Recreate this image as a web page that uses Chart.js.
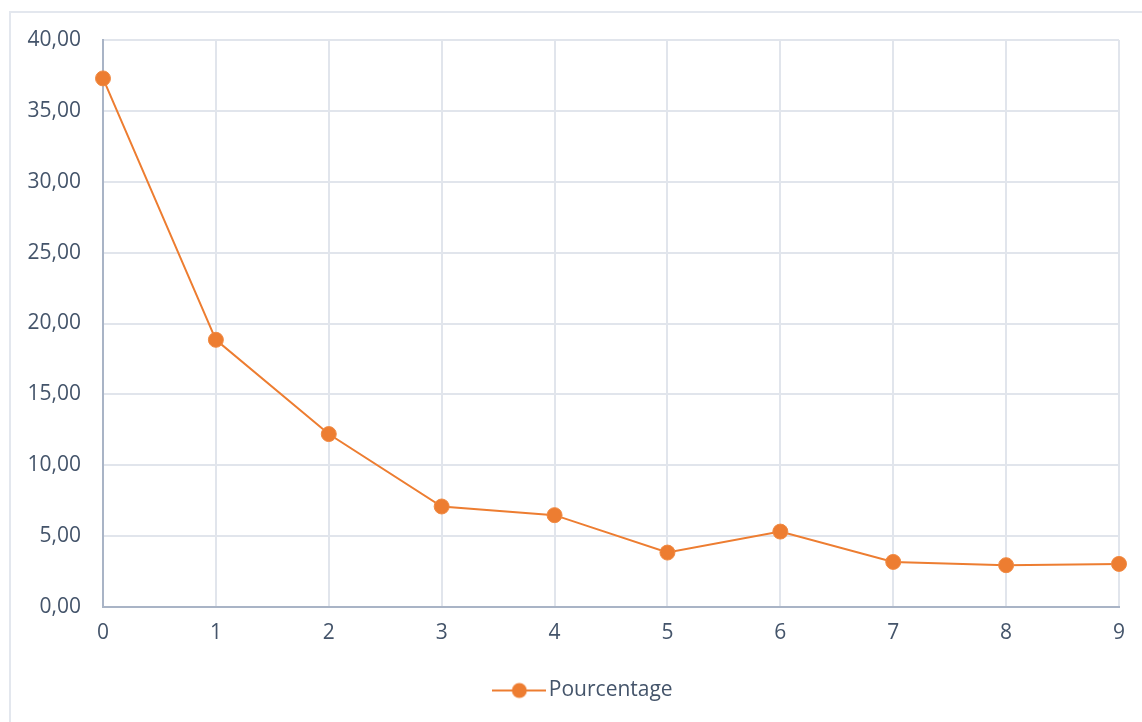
<!DOCTYPE html>
<html>
<head>
<meta charset="utf-8">
<script src="https://cdn.jsdelivr.net/npm/chart.js@4"></script>
<style>
  html, body { margin: 0; padding: 0; background: #ffffff; }
  #frame { position: absolute; left: 9px; top: 11px; width: 1150px; height: 730px; border: 2px solid #e3e7ee; box-sizing: border-box; }
  #wrap { position: absolute; left: 0; top: 0; width: 1142px; height: 722px; }
</style>
</head>
<body>
<div id="frame"></div>
<div id="wrap"><canvas id="c" width="1142" height="722"></canvas></div>
<script>
const categories = ['0', '1', '2', '3', '4', '5', '6', '7', '8', '9'];
const seriesName = 'Pourcentage';
const values = [37.29, 18.85, 12.20, 7.09, 6.48, 3.84, 5.32, 3.18, 2.95, 3.04];
const yTicks = [0, 5, 10, 15, 20, 25, 30, 35, 40];

const ORANGE = '#ED7D31';
const TEXT = '#44546A';
const FONT = { family: 'Open Sans', size: 21 };

function legendIcon() {
  const c = document.createElement('canvas');
  c.width = 54; c.height = 18;
  const g = c.getContext('2d');
  g.strokeStyle = ORANGE; g.lineWidth = 2;
  g.beginPath(); g.moveTo(0, 9); g.lineTo(54, 9); g.stroke();
  g.fillStyle = ORANGE;
  g.beginPath(); g.arc(27, 9, 7.5, 0, Math.PI * 2); g.fill();
  return c;
}
const icon = legendIcon();

const legendShift = {
  id: 'legendShift',
  afterLayout(chart) {
    const lg = chart.legend;
    if (lg) { lg.left += 27; lg.right += 27; }
  }
};

new Chart(document.getElementById('c'), {
  type: 'line',
  data: {
    labels: categories,
    datasets: [{
      label: seriesName,
      data: values,
      borderColor: ORANGE,
      backgroundColor: ORANGE,
      borderWidth: 2,
      pointRadius: 7.5,
      pointBorderWidth: 1,
      pointBorderColor: '#F08A43',
      pointBackgroundColor: ORANGE,
      pointStyle: 'circle',
      tension: 0
    }]
  },
  plugins: [legendShift],
  options: {
    responsive: false,
    animation: false,
    devicePixelRatio: 1,
    layout: { padding: { left: 0, top: 40, right: 23, bottom: 11 } },
    plugins: {
      tooltip: { enabled: false },
      legend: {
        position: 'bottom',
        labels: {
          usePointStyle: true,
          pointStyleWidth: 38,
          color: TEXT,
          font: FONT,
          padding: 10,
          generateLabels: (chart) => [{
            text: seriesName,
            fillStyle: ORANGE,
            strokeStyle: ORANGE,
            pointStyle: icon,
            lineWidth: 0,
            datasetIndex: 0,
            fontColor: TEXT
          }]
        }
      }
    },
    scales: {
      x: {
        offset: false,
        grid: { color: '#e1e5ec', lineWidth: 2, drawTicks: false },
        border: { color: '#a9b4c6', width: 2 },
        ticks: { color: TEXT, font: FONT, padding: 13, maxRotation: 0 },
        afterFit: (s) => { s.height = 63; }
      },
      y: {
        min: 0, max: 40,
        afterBuildTicks: (s) => { s.ticks = yTicks.map(v => ({ value: v })); },
        grid: { color: '#e1e5ec', lineWidth: 2, drawTicks: false },
        border: { color: '#a9b4c6', width: 2 },
        ticks: {
          color: TEXT, font: FONT, padding: 22,
          callback: (v) => Number(v).toFixed(2).replace('.', ',')
        },
        afterFit: (s) => { s.width = 103; }
      }
    }
  }
});
</script>
</body>
</html>
